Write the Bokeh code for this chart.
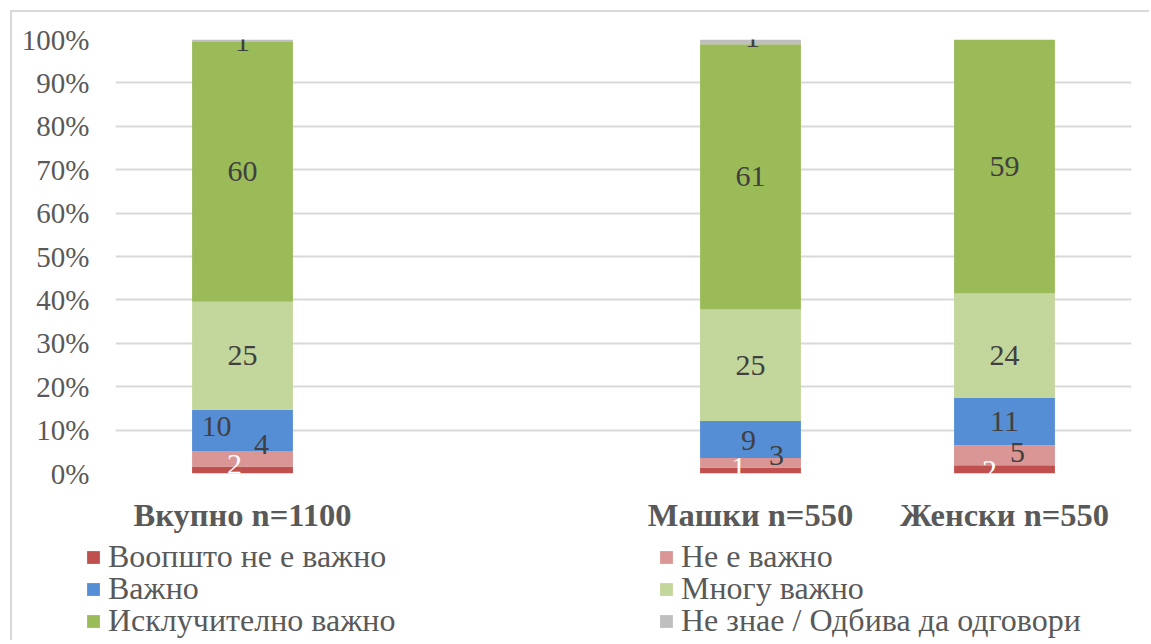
from bokeh.plotting import figure
from bokeh.models import (FactorRange, Range1d, NumeralTickFormatter, FixedTicker,
                          ColumnDataSource, Legend, LegendItem)
from bokeh.core.properties import value
from bokeh.embed import file_html
from bokeh.resources import INLINE

# ---- data (percent shares) ----
categories = ["Вкупно n=1100", "Машки n=550", "Женски n=550"]
axis_factors = ["Вкупно n=1100", " ", "Машки n=550", "Женски n=550"]
series = ["Воопшто не е важно", "Не е важно", "Важно", "Многу важно",
          "Исклучително важно", "Не знае / Одбива да одговори"]
v_not_at_all = [1.6, 1.4, 1.9]
v_not = [3.6, 2.2, 4.6]
v_important = [9.5, 8.5, 10.9]
v_very = [24.9, 25.7, 24.1]
v_extreme = [59.8, 61.1, 58.5]
v_dk = [0.6, 1.1, 0.0]
# shown (rounded) labels
lab_not_at_all = ["2", "1", "2"]
lab_not = ["4", "3", "5"]
lab_important = ["10", "9", "11"]
lab_very = ["25", "25", "24"]
lab_extreme = ["60", "61", "59"]
lab_dk = ["1", "1", ""]

colors = ["#C0504D", "#D99694", "#558ED5", "#C3D69B", "#9BBB59", "#BFBFBF"]
keys = ["s0", "s1", "s2", "s3", "s4", "s5"]
vals = [v_not_at_all, v_not, v_important, v_very, v_extreme, v_dk]
labs = [lab_not_at_all, lab_not, lab_important, lab_very, lab_extreme, lab_dk]

data = {"cat": categories}
for k, v in zip(keys, vals):
    data[k] = [x / 100.0 for x in v]
src = ColumnDataSource(data)

FONT = "Liberation Serif"
BORDER = "2px solid #D9D9D9"

p = figure(width=1139, height=523, output_backend="svg", toolbar_location=None,
           x_range=FactorRange(factors=axis_factors, range_padding=0),
           y_range=Range1d(0, 1),
           min_border_left=103, min_border_right=20, min_border_top=27, min_border_bottom=59)
p.outline_line_color = None
p.background_fill_color = "white"
p.border_fill_color = "white"
p.styles = {"margin-left": "10px", "margin-top": "10px",
            "border-left": BORDER, "border-top": BORDER}

rs = p.vbar_stack(keys, x="cat", width=0.397, source=src, color=colors, line_color=None)

# data labels at segment centres with small pixel nudges like the original
nudge_x = [[-8, -12, -15], [19, 26, 13], [-26, -2, 0], [0, 0, 0], [0, 0, 0], [0, 2, 0]]
nudge_y = [[-6, -3, 1], [-14, -7, -3], [-4, 1, 0], [0, 0, 10], [0, 0, 0], [1, -4, 0]]
lx, ly, lt, lc, ox, oy = [], [], [], [], [], []
for i in range(len(categories)):
    cum = 0.0
    for s in range(len(keys)):
        h = vals[s][i] / 100.0
        if labs[s][i]:
            lx.append(categories[i]); ly.append(cum + h / 2); lt.append(labs[s][i])
            lc.append("white" if s == 0 else "#404040")
            ox.append(nudge_x[s][i]); oy.append(nudge_y[s][i])
        cum += h
lsrc = ColumnDataSource(dict(x=lx, y=ly, t=lt, c=lc, ox=ox, oy=oy))
p.text(x="x", y="y", text="t", source=lsrc, text_color="c", x_offset="ox", y_offset="oy",
       text_font=value(FONT), text_font_size="30px", text_align="center", text_baseline="middle")

# axes
p.yaxis.ticker = FixedTicker(ticks=[i / 10 for i in range(11)])
p.yaxis.formatter = NumeralTickFormatter(format="0%")
for ax in (p.xaxis[0], p.yaxis[0]):
    ax.axis_line_color = None
    ax.major_tick_line_color = None
    ax.minor_tick_line_color = None
    ax.major_tick_out = 0
    ax.major_tick_in = 0
    ax.minor_tick_out = 0
    ax.major_label_text_font = FONT
    ax.major_label_text_color = "#595959"
p.yaxis.major_label_text_font_size = "29px"
p.yaxis.major_label_standoff = 26
p.xaxis.major_label_text_font_size = "32.5px"
p.xaxis.major_label_text_font_style = "bold"
p.xaxis.major_label_standoff = 23
p.xgrid.grid_line_color = None
p.ygrid.grid_line_color = "#D9D9D9"
p.ygrid.grid_line_width = 2

# legend strip (its own root so the entries are not clipped by the plot frame)
QH = 107
q = figure(width=1139, height=QH, output_backend="svg", toolbar_location=None,
           x_range=FactorRange(factors=axis_factors, range_padding=0),
           y_range=Range1d(5, 6), x_axis_location=None, y_axis_location=None,
           min_border=0)
q.outline_line_color = None
q.grid.grid_line_color = None
q.styles = {"margin-left": "10px", "border-left": BORDER}
qr = q.vbar_stack(keys, x="cat", width=0.397, source=src, color=colors, line_color=None)

# one entry per legend so rows can sit 32px apart like the original
col_x = [73, 646]
row_c = [24, 56, 88]
ITEM_H = 36
for i in range(len(series)):
    col, row = i % 2, i // 2
    leg = Legend(items=[LegendItem(label=series[i], renderers=[qr[i]])],
                 location=(col_x[col], QH - row_c[row] - ITEM_H // 2),
                 orientation="vertical", padding=0, margin=0, spacing=0,
                 glyph_width=16, glyph_height=16, label_standoff=7, label_height=32,
                 label_text_font=FONT, label_text_font_size="32px", label_text_color="#595959",
                 border_line_color=None, background_fill_alpha=0)
    q.add_layout(leg, "center")

open("out.html", "w").write(file_html([p, q], INLINE))
